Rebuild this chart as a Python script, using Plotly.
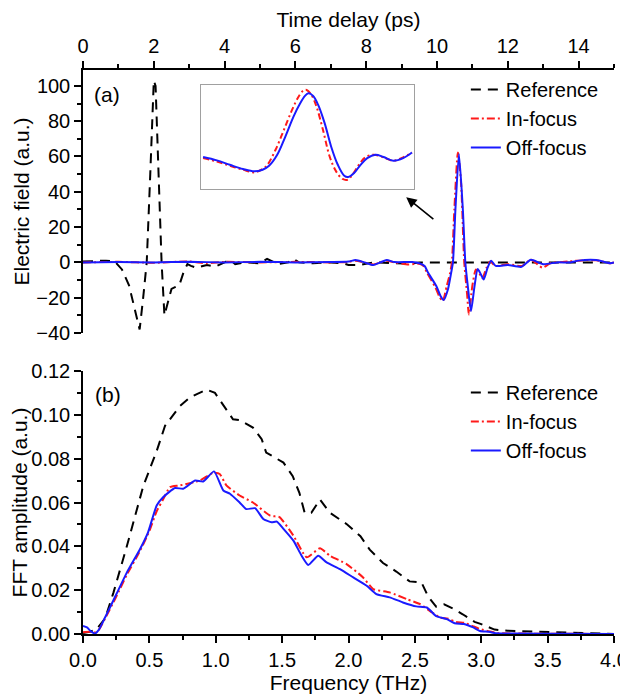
import plotly.graph_objects as go

# ---------------- data: time domain (panel a) ----------------
ref_t = [0, 0.3, 0.65, 0.9, 1.1, 1.3, 1.45, 1.6, 1.7, 1.8, 1.9, 2.0, 2.05, 2.15, 2.22, 2.3, 2.4, 2.5,
         2.6, 2.72, 2.85, 2.95, 3.05, 3.2, 3.5, 3.75, 4.0, 4.15, 4.3, 4.6, 5.0, 5.2, 5.5, 5.8, 5.95,
         6.1, 6.5, 7.0, 7.35, 7.5, 7.8, 8.2, 9.2, 9.5, 15.0]
ref_e = [0.5, 0.8, 1.0, 0.5, -4, -13, -25, -38, -20, 0, 50, 103, 100, 40, 0, -30, -22, -15,
         -14, -13, -5, -1, -2, -3, -1.5, -2.3, 0, 1.5, -1, 0, -0.5, 2, -1, 0, 2,
         0, -0.5, 0, -0.5, -1.5, -1.5, 0, -0.7, 0, 0]

off_t = [0, 1, 2, 3, 4, 5, 6, 7, 7.5, 7.7, 7.95, 8.2, 8.4, 8.58, 8.8, 9.3, 9.5, 9.65, 9.75, 9.98,
         10.1, 10.19, 10.31, 10.4, 10.45, 10.52, 10.62, 10.73, 10.8, 10.87, 10.96, 11.06, 11.15,
         11.24, 11.32, 11.43, 11.53, 11.66, 12.0, 12.39, 12.65, 13.0, 13.4, 13.77, 14.0, 14.5, 14.9, 15.0]
off_e = [0, 0.2, 0, 0.3, 0, 0.3, 0, 0.2, 0.5, 1.3, 0, -1.5, 0, 1.3, 0.2, 0.2, -0.5, -2, -5.9, -13.4,
         -19, -21.3, -15.2, -5.9, 0, 30, 61.4, 30, 0, -13.4, -27.5, -13.4, -3.8,
         -6.8, -9.7, -3, 1, -2, -1.5, -2.5, 1.5, -1, 0, 0, 1, 1.3, -0.5, 0]

in_t = [0, 1, 2, 3, 3.5, 4, 5, 6, 7, 7.5, 7.7, 7.95, 8.2, 8.4, 8.58, 8.8, 9.2, 9.5, 9.62, 9.72, 9.95,
        10.07, 10.16, 10.28, 10.37, 10.42, 10.49, 10.59, 10.68, 10.77, 10.85, 10.9, 11.0, 11.1,
        11.2, 11.28, 11.4, 11.5, 11.65, 12.0, 12.4, 12.65, 12.98, 13.2, 13.7, 14.0, 14.5, 14.9, 15.0]
in_e = [0, 0.3, -0.2, 0.5, -0.5, 0.3, 0, 0.3, 0, 0.3, 1.0, 0, -1.2, 0, 1.0, 0, -1.2, -0.8, -2, -6, -14,
        -19.5, -22, -13, -6, 0, 30, 62.3, 45, 0, -18, -29.5, -13, -4,
        -6.5, -9, -3, 0.5, -2, -1, -2, 1.5, -3, -0.5, 0.5, 1, 1.2, -0.5, 0]

# inset (zoomed pulse, normalised units)
ins_x_off = [0, 0.066, 0.128, 0.191, 0.246, 0.285, 0.316, 0.355, 0.394, 0.433, 0.465, 0.488, 0.504,
             0.527, 0.551, 0.582, 0.613, 0.645, 0.676, 0.695, 0.723, 0.754, 0.786, 0.825, 0.864,
             0.911, 0.958, 1.0]
ins_y_off = [0.306, 0.274, 0.232, 0.191, 0.169, 0.185, 0.223, 0.328, 0.503, 0.694, 0.822, 0.892, 0.917,
             0.892, 0.806, 0.631, 0.408, 0.232, 0.127, 0.115, 0.153, 0.232, 0.296, 0.328, 0.306,
             0.271, 0.296, 0.350]
ins_x_in = [0, 0.066, 0.128, 0.191, 0.246, 0.285, 0.308, 0.347, 0.387, 0.426, 0.457, 0.480, 0.496,
            0.519, 0.543, 0.574, 0.606, 0.637, 0.668, 0.692, 0.715, 0.746, 0.778, 0.817, 0.864,
            0.911, 0.958, 1.0]
ins_y_in = [0.296, 0.264, 0.223, 0.185, 0.159, 0.191, 0.232, 0.376, 0.567, 0.758, 0.885, 0.943, 0.949,
            0.901, 0.790, 0.567, 0.312, 0.169, 0.096, 0.089, 0.137, 0.232, 0.306, 0.328, 0.303,
            0.271, 0.303, 0.350]

# ---------------- data: frequency domain (panel b) ----------------
ref_f = [0, 0.05, 0.1, 0.166, 0.23, 0.33, 0.454, 0.555, 0.618, 0.73, 0.806, 0.93, 0.994, 1.07, 1.13,
         1.18, 1.28, 1.346, 1.38, 1.51, 1.58, 1.63, 1.67, 1.72, 1.785, 1.86, 1.99, 2.09, 2.16, 2.26,
         2.36, 2.46, 2.55, 2.60, 2.66, 2.72, 2.79, 2.86, 2.95, 3.0, 3.06, 3.1, 3.2, 3.35, 3.5, 3.7,
         3.8, 4.0]
ref_a = [0.0005, 0.001, 0.002, 0.007, 0.019, 0.040, 0.0675, 0.0835, 0.095, 0.104, 0.108, 0.1115, 0.110,
         0.1033, 0.098, 0.0976, 0.0942, 0.0889, 0.0828, 0.0782, 0.072, 0.0644, 0.0553, 0.0553,
         0.0614, 0.0553, 0.050, 0.0446, 0.0385, 0.0324, 0.0285, 0.024, 0.0235, 0.0171, 0.0125,
         0.0135, 0.0115, 0.009, 0.0055, 0.0045, 0.003, 0.002, 0.0015, 0.0012, 0.0008, 0.0004,
         0.0002, 0.0]

off_f = [0, 0.03, 0.06, 0.09, 0.12, 0.166, 0.25, 0.33, 0.43, 0.49, 0.555, 0.605, 0.693, 0.755, 0.844,
         0.906, 0.987, 1.057, 1.107, 1.18, 1.23, 1.296, 1.358, 1.42, 1.46, 1.51, 1.585, 1.647, 1.697,
         1.772, 1.835, 1.936, 2.036, 2.137, 2.21, 2.31, 2.41, 2.51, 2.59, 2.66, 2.74, 2.80, 2.87,
         2.94, 2.99, 3.06, 3.11, 3.3, 3.6, 4.0]
off_a = [0.0037, 0.003, 0.0012, 0.0002, 0.002, 0.0075, 0.018, 0.028, 0.0388, 0.0464, 0.0586, 0.0625,
         0.0666, 0.0663, 0.070, 0.0696, 0.0742, 0.0655, 0.064, 0.060, 0.057, 0.0574, 0.0525, 0.051,
         0.0513, 0.048, 0.0426, 0.0357, 0.0315, 0.0357, 0.0327, 0.0296, 0.0258, 0.022, 0.0182,
         0.0167, 0.0144, 0.0126, 0.0121, 0.0082, 0.0068, 0.0049, 0.0046, 0.003, 0.0014, 0.001,
         0.0003, 0.0002, 0.0001, 0.0]

in_f = [0, 0.05, 0.09, 0.12, 0.166, 0.25, 0.33, 0.43, 0.5, 0.555, 0.6, 0.655, 0.73, 0.88, 0.98, 1.03,
        1.08, 1.18, 1.28, 1.41, 1.48, 1.585, 1.685, 1.785, 1.86, 1.985, 2.11, 2.186, 2.31, 2.44,
        2.54, 2.63, 2.69, 2.75, 2.81, 2.88, 2.94, 2.99, 3.06, 3.12, 3.3, 3.6, 4.0]
in_a = [0.0008, 0.001, 0.0008, 0.002, 0.007, 0.017, 0.027, 0.038, 0.047, 0.056, 0.061, 0.067, 0.0678,
        0.070, 0.0736, 0.073, 0.0678, 0.0632, 0.060, 0.054, 0.0533, 0.0449, 0.035, 0.0391, 0.0357,
        0.0319, 0.0258, 0.0205, 0.019, 0.0159, 0.0136, 0.0098, 0.0075, 0.007, 0.0055, 0.005,
        0.0035, 0.0023, 0.0012, 0.0004, 0.0002, 0.0001, 0.0]

names = ["Reference", "In-focus", "Off-focus"]

FONT = "Arial, Liberation Sans, sans-serif"
BLACK_DASH = "10px,7px"
RED_DASHDOT = "8px,3px,2px,3px"

fig = go.Figure()

# panel (a)
fig.add_trace(go.Scatter(x=ref_t, y=ref_e, name=names[0], mode="lines",
                         line=dict(color="black", width=2, dash=BLACK_DASH),
                         xaxis="x", yaxis="y", legend="legend"))
fig.add_trace(go.Scatter(x=in_t, y=in_e, name=names[1], mode="lines",
                         line=dict(color="#ff1a1a", width=2, dash=RED_DASHDOT, shape="spline", smoothing=0.6),
                         xaxis="x", yaxis="y", legend="legend"))
fig.add_trace(go.Scatter(x=off_t, y=off_e, name=names[2], mode="lines",
                         line=dict(color="#1a1aff", width=2, shape="spline", smoothing=0.6),
                         xaxis="x", yaxis="y", legend="legend"))

# inset
fig.add_trace(go.Scatter(x=ins_x_in, y=ins_y_in, mode="lines", showlegend=False,
                         line=dict(color="#ff1a1a", width=2, dash="6px,3px,2px,3px", shape="spline", smoothing=1.0),
                         xaxis="x5", yaxis="y5"))
fig.add_trace(go.Scatter(x=ins_x_off, y=ins_y_off, mode="lines", showlegend=False,
                         line=dict(color="#1a1aff", width=2, shape="spline", smoothing=1.0),
                         xaxis="x5", yaxis="y5"))

# panel (b)
fig.add_trace(go.Scatter(x=ref_f, y=ref_a, name=names[0], mode="lines",
                         line=dict(color="black", width=2, dash=BLACK_DASH),
                         xaxis="x2", yaxis="y2", legend="legend2"))
fig.add_trace(go.Scatter(x=in_f, y=in_a, name=names[1], mode="lines",
                         line=dict(color="#ff1a1a", width=2, dash=RED_DASHDOT, shape="spline", smoothing=0.5),
                         xaxis="x2", yaxis="y2", legend="legend2"))
fig.add_trace(go.Scatter(x=off_f, y=off_a, name=names[2], mode="lines",
                         line=dict(color="#1a1aff", width=2, shape="spline", smoothing=0.5),
                         xaxis="x2", yaxis="y2", legend="legend2"))

TOP_DOM = [0.5337, 1.0]
BOT_DOM = [0.0, 0.4663]
tickfont = dict(family=FONT, size=20, color="black")
titlefont = dict(family=FONT, size=21, color="black")

common = dict(showline=True, linecolor="black", linewidth=1.5, showgrid=False, zeroline=False,
              ticklen=7, tickwidth=1.5, tickcolor="black", tickfont=tickfont, automargin=False)
minor_x = dict(ticklen=4, tickwidth=1.5, tickcolor="black")

# the page body adds an 8 px offset, so the figure is drawn 8 px smaller
fig.update_layout(
    width=620, height=690,
    margin=dict(l=75, r=14, t=62, b=64),
    paper_bgcolor="white", plot_bgcolor="white",
    template="none",
    font=dict(family=FONT, size=20, color="black"),
    # panel (a)
    xaxis=dict(domain=[0, 1], anchor="y", side="top", range=[0, 15], dtick=2, tick0=0,
               ticks="outside", minor=dict(dtick=1, ticks="outside", **minor_x),
               title=dict(text="Time delay (ps)", font=titlefont, standoff=15), **common),
    xaxis3=dict(overlaying="x", anchor="y", side="bottom", range=[0, 15], dtick=2, tick0=0,
                ticks="outside", minor=dict(dtick=1, ticks="outside", **minor_x),
                showticklabels=False, **common),
    yaxis=dict(domain=TOP_DOM, anchor="x", range=[-40, 109], dtick=20, tick0=0,
               ticks="outside", minor=dict(dtick=10, ticks="outside", **minor_x),
               title=dict(text="Electric field (a.u.)", font=titlefont, standoff=1), **common),
    yaxis3=dict(overlaying="y", anchor="x", side="right", range=[-40, 109], dtick=20, tick0=0,
                ticks="inside", minor=dict(dtick=10, ticks="inside", **minor_x),
                showticklabels=False, **common),
    # panel (b)
    xaxis2=dict(domain=[0, 1], anchor="y2", side="bottom", range=[0, 4], dtick=0.5, tick0=0,
                tickformat=".1f",
                ticks="outside", minor=dict(dtick=0.25, ticks="outside", **minor_x),
                title=dict(text="Frequency (THz)", font=titlefont, standoff=5), **common),
    xaxis4=dict(overlaying="x2", anchor="y2", side="top", range=[0, 4], dtick=0.5, tick0=0,
                ticks="inside", minor=dict(dtick=0.25, ticks="inside", **minor_x),
                showticklabels=False, **common),
    yaxis2=dict(domain=BOT_DOM, anchor="x2", range=[0, 0.12], dtick=0.02, tick0=0,
                tickformat=".2f",
                ticks="outside", minor=dict(dtick=0.01, ticks="outside", **minor_x),
                title=dict(text="FFT amplitude (a.u.)", font=titlefont, standoff=1), **common),
    yaxis4=dict(overlaying="y2", anchor="x2", side="right", range=[0, 0.12], dtick=0.02, tick0=0,
                ticks="inside", minor=dict(dtick=0.01, ticks="inside", **minor_x),
                showticklabels=False, **common),
    # inset
    xaxis5=dict(domain=[0.2222, 0.6234], anchor="y5", range=[-0.01, 1.01], showline=True, mirror=True,
                linecolor="#a0a0a0", linewidth=1.2, showgrid=False, zeroline=False,
                showticklabels=False, ticks="", automargin=False),
    yaxis5=dict(domain=[0.789, 0.974], anchor="x5", range=[0.0, 1.0], showline=True, mirror=True,
                linecolor="#a0a0a0", linewidth=1.2, showgrid=False, zeroline=False,
                showticklabels=False, ticks="", automargin=False),
    legend=dict(x=0.721, y=1.0, xanchor="left", yanchor="top", bgcolor="rgba(0,0,0,0)",
                font=dict(family=FONT, size=20, color="black"), tracegroupgap=0),
    legend2=dict(x=0.721, y=0.4628, xanchor="left", yanchor="top", bgcolor="rgba(0,0,0,0)",
                 font=dict(family=FONT, size=20, color="black"), tracegroupgap=0),
    annotations=[
        dict(text="(a)", x=0.045, y=0.957, xref="paper", yref="paper", showarrow=False,
             xanchor="center", yanchor="middle",
             font=dict(family=FONT, size=21, color="black")),
        dict(text="(b)", x=0.047, y=0.424, xref="paper", yref="paper", showarrow=False,
             xanchor="center", yanchor="middle",
             font=dict(family=FONT, size=21, color="black")),
        dict(text="", x=9.13, y=36.9, ax=9.94, ay=23.9, xref="x", yref="y", axref="x", ayref="y",
             showarrow=True, arrowhead=2, arrowsize=1.3, arrowwidth=1.6, arrowcolor="black"),
    ],
)

fig.write_html("out.html")
